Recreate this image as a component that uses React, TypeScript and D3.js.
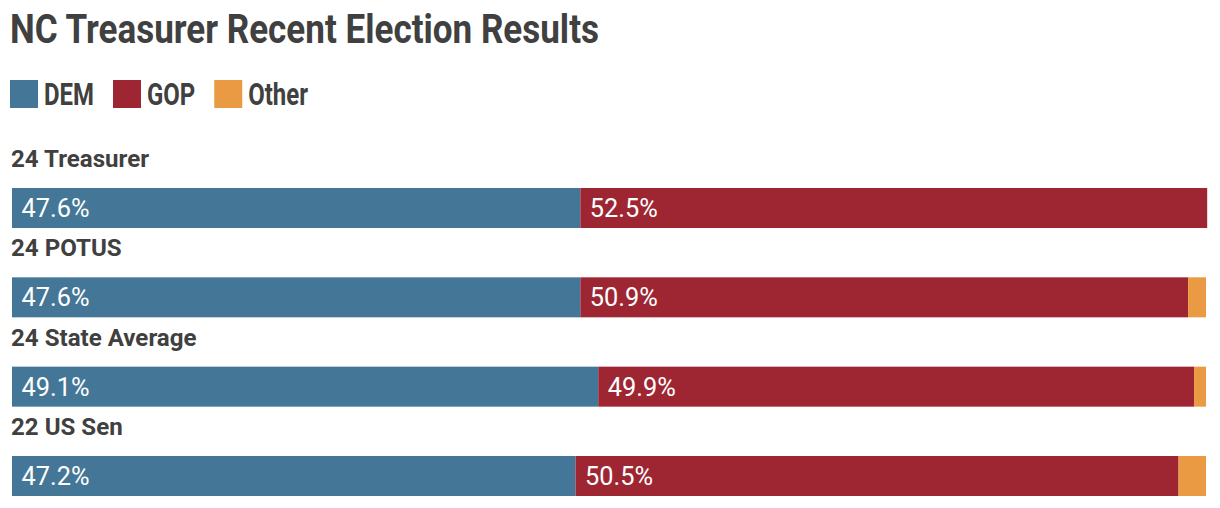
import React, { useEffect, useRef } from 'react';
import * as d3 from 'd3';

const chartTitle = 'NC Treasurer Recent Election Results';
const categories = ['24 Treasurer', '24 POTUS', '24 State Average', '22 US Sen'];
const seriesNames = ['DEM', 'GOP', 'Other'];
const demValues = [47.6, 47.6, 49.1, 47.2];
const gopValues = [52.5, 50.9, 49.9, 50.5];
const otherValues = [0, 1.5, 1.0, 2.3];
const seriesColors = ['#447797', '#9e2633', '#e99a42'];

const W = 1220;
const H = 508;
const TEXT = '#404040';
const FONT = 'Roboto, "Noto Sans", sans-serif';

function fitGroup(nodes: SVGTextElement[], ref: SVGTextElement, target: number) {
  const k = target / ref.getComputedTextLength();
  nodes.forEach((n) => {
    const w = n.getComputedTextLength();
    n.setAttribute('textLength', String(w * k));
    n.setAttribute('lengthAdjust', 'spacingAndGlyphs');
  });
}

export default function App() {
  const ref = useRef<SVGSVGElement>(null);

  useEffect(() => {
    const svg = d3.select(ref.current);
    svg.selectAll('*').remove();

    // Title
    const titleNode = svg
      .append('text')
      .attr('x', 10)
      .attr('y', 43)
      .attr('font-family', FONT)
      .attr('font-weight', 700)
      .attr('font-size', 41)
      .attr('fill', TEXT)
      .text(chartTitle)
      .node() as SVGTextElement;
    fitGroup([titleNode], titleNode, 589);

    // Legend
    const lg = svg.append('g');
    const legendTexts: SVGTextElement[] = [];
    seriesNames.forEach((name) => {
      const t = lg
        .append('text')
        .attr('y', 105)
        .attr('font-family', FONT)
        .attr('font-weight', 700)
        .attr('font-size', 31)
        .attr('fill', TEXT)
        .text(name)
        .node() as SVGTextElement;
      legendTexts.push(t);
    });
    fitGroup(legendTexts, legendTexts[0], 50);
    let lx = 10;
    seriesNames.forEach((name, i) => {
      lg.append('rect')
        .attr('x', lx)
        .attr('y', 80)
        .attr('width', 28)
        .attr('height', 28)
        .attr('fill', seriesColors[i]);
      const t = legendTexts[i];
      t.setAttribute('x', String(lx + 34));
      lx += 34 + parseFloat(t.getAttribute('textLength') || '0') + 19;
    });

    // Scales
    const x = d3.scaleLinear().domain([0, 100]).range([12, 1206]);
    const y = d3
      .scaleBand<string>()
      .domain(categories)
      .range([188, 188 + 4 * 89.33])
      .paddingInner(0)
      .paddingOuter(0);
    const barH = 40;

    const rows = categories.map((c, i) => {
      const vals = [demValues[i], gopValues[i], otherValues[i]];
      let acc = 0;
      const segs = vals.map((v, j) => {
        const s = { name: seriesNames[j], x0: acc, x1: acc + v, v, color: seriesColors[j] };
        acc += v;
        return s;
      });
      return { cat: c, segs };
    });

    const rowLabelNodes: SVGTextElement[] = [];
    const valueNodes: SVGTextElement[] = [];

    rows.forEach((r) => {
      const top = y(r.cat)!;
      const g = svg.append('g');
      const lab = g
        .append('text')
        .attr('x', 11)
        .attr('y', top - 21)
        .attr('font-family', FONT)
        .attr('font-weight', 700)
        .attr('font-size', 24)
        .attr('fill', TEXT)
        .text(r.cat)
        .node() as SVGTextElement;
      rowLabelNodes.push(lab);

      r.segs
        .filter((s) => s.v > 0)
        .forEach((s) => {
          g.append('rect')
            .attr('x', x(s.x0))
            .attr('y', top)
            .attr('width', x(s.x1) - x(s.x0))
            .attr('height', barH)
            .attr('fill', s.color);
        });
      r.segs
        .filter((s) => s.v > 5)
        .forEach((s) => {
          const t = g
            .append('text')
            .attr('x', x(s.x0) + 9.5)
            .attr('y', top + 29)
            .attr('font-family', FONT)
            .attr('font-weight', 400)
            .attr('font-size', 26)
            .attr('fill', '#ffffff')
            .text(`${s.v.toFixed(1)}%`)
            .node() as SVGTextElement;
          valueNodes.push(t);
        });
    });

    fitGroup(rowLabelNodes, rowLabelNodes[0], 138);
    fitGroup(valueNodes, valueNodes[0], 68);
  }, []);

  return (
    <svg
      ref={ref}
      width={W}
      height={H}
      style={{ position: 'absolute', left: 0, top: 0, display: 'block', background: '#fff' }}
    />
  );
}
